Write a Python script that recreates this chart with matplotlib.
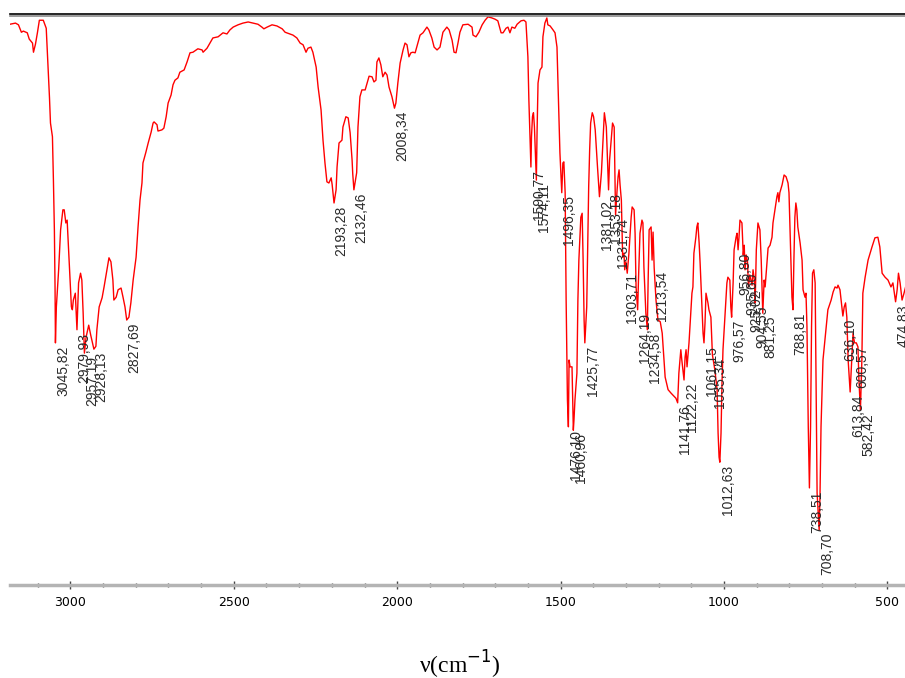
import numpy as np
import matplotlib
matplotlib.use('Agg')
import matplotlib.pyplot as plt
import matplotlib.transforms as mtransforms
from matplotlib.ticker import MultipleLocator

# IR spectrum: wavenumber (cm-1) and transmittance (%)
wavenumber = [
    3185, 3168, 3159, 3150, 3144, 3132, 3126, 3116, 3113, 3107, 3101, 3095, 3083, 3074,
    3067, 3064, 3061, 3055, 3052, 3049, 3047, 3045.82, 3043, 3036, 3030, 3023, 3019,
    3014, 3010, 3006, 3001, 2997, 2994, 2991, 2985, 2979.93, 2975, 2969, 2965, 2961,
    2957.19, 2952, 2944, 2938, 2928.13, 2922, 2919, 2912, 2903, 2897, 2888, 2882, 2876,
    2870, 2867, 2860, 2854, 2845, 2839, 2833, 2827.69, 2821, 2815, 2808, 2799, 2793,
    2787, 2781, 2778, 2769, 2762, 2753, 2747, 2744, 2735, 2732, 2720, 2714, 2707, 2701,
    2692, 2686, 2680, 2671, 2665, 2652, 2643, 2634, 2625, 2610, 2597, 2594, 2582, 2573,
    2564, 2548, 2533, 2521, 2512, 2502, 2487, 2472, 2456, 2441, 2426, 2414, 2408, 2398,
    2383, 2368, 2352, 2343, 2328, 2319, 2307, 2297, 2288, 2279, 2273, 2264, 2258, 2248,
    2242, 2233, 2227, 2221, 2215, 2209, 2202, 2199, 2193.28, 2187, 2184, 2178, 2169,
    2166, 2157, 2150, 2144, 2138, 2136, 2132.46, 2124, 2120, 2114, 2108, 2098, 2092,
    2086, 2077, 2071, 2065, 2062, 2056, 2050, 2044, 2037, 2031, 2025, 2016, 2008.34,
    2004, 1998, 1991, 1982, 1976, 1970, 1964, 1958, 1952, 1945, 1936, 1930, 1921, 1909,
    1903, 1894, 1887, 1878, 1869, 1860, 1848, 1841, 1832, 1826, 1820, 1814, 1808, 1799,
    1783, 1771, 1768, 1759, 1750, 1740, 1731, 1722, 1710, 1701, 1692, 1682, 1676, 1667,
    1661, 1655, 1649, 1640, 1633, 1621, 1612, 1606, 1603, 1600, 1597, 1590.77, 1589,
    1586, 1583, 1580, 1574.11, 1572, 1569, 1563, 1557, 1554, 1548, 1542, 1539, 1532,
    1523, 1517, 1511, 1508, 1502, 1496.35, 1493, 1490, 1486, 1483, 1479, 1476.10, 1474,
    1471, 1465, 1460.96, 1459, 1456, 1450, 1447, 1444, 1438, 1434, 1431, 1428, 1425.77,
    1420, 1417, 1414, 1411, 1408, 1403, 1399, 1394, 1387, 1381.02, 1375, 1369, 1366,
    1360, 1353.18, 1350, 1345, 1341, 1336, 1331.74, 1327, 1324, 1321, 1318, 1314, 1310,
    1306, 1303.71, 1300, 1296, 1291, 1284, 1281, 1275, 1272, 1269, 1264.19, 1261, 1257,
    1251, 1248, 1245, 1239, 1234.58, 1232, 1229, 1223, 1220, 1217, 1213.54, 1208, 1202,
    1195, 1189, 1180, 1171, 1162, 1147, 1141.76, 1138, 1132, 1129, 1122.22, 1119, 1116,
    1113, 1107, 1101, 1098, 1095, 1092, 1086, 1083, 1080, 1076, 1073, 1067, 1064,
    1061.15, 1058, 1055, 1049, 1046, 1040, 1037, 1035.34, 1028, 1021, 1018, 1015,
    1012.63, 1009, 1006, 1003, 997, 991, 988, 982, 979, 976.57, 972, 969, 963, 960,
    956.80, 954, 951, 945, 941, 938, 935.60, 932, 928, 925.02, 921, 914, 911, 907,
    904.55, 901, 896, 890, 886, 881.25, 877, 874, 868, 865, 859, 853, 850, 844, 838,
    835, 832, 829, 822, 816, 810, 804, 801, 798, 795, 792, 788.81, 786, 783, 780, 777,
    774, 767, 761, 758, 752, 749, 746, 742, 738.51, 735, 732, 729, 725, 721, 718, 715,
    708.70, 706, 703, 697, 685, 682, 672, 666, 660, 654, 651, 645, 639, 636.10, 632,
    628, 624, 620, 613.84, 608, 605, 600.57, 595, 590, 587, 582.42, 578, 575, 568, 559,
    547, 538, 529, 523, 516, 507, 498, 489, 483, 478, 474.83, 470, 466, 461, 455, 449,
    441,
]
transmittance = [
    98.2, 98.4, 98.1, 96.8, 97.0, 96.7, 95.6, 94.9, 93.3, 94.7, 96.7, 98.9, 98.9, 97.5,
    89.0, 85.3, 80.9, 78.5, 70.9, 62.0, 52.0, 42.4, 48.7, 55.2, 62.2, 65.7, 65.7,
    63.4, 63.9, 59.2, 53.4, 48.7, 48.2, 49.9, 51.1, 44.7, 52.9, 54.6, 53.4, 47.6,
    40.6, 43.4, 45.5, 43.8, 41.3, 41.8, 44.7, 48.7, 50.3, 52.2, 55.2, 57.3, 56.6,
    53.4, 49.9, 50.4, 51.7, 52.0, 50.4, 48.7, 46.4, 46.9, 49.4, 53.4, 57.4, 62.7,
    67.4, 70.4, 73.9, 75.8, 77.4, 79.3, 80.9, 81.1, 80.6, 79.5, 79.7, 80.0, 82.0, 84.4,
    85.8, 87.6, 88.4, 88.8, 89.8, 90.2, 91.6, 93.2, 93.3, 93.9, 93.7, 93.3, 94.0, 94.9,
    95.8, 96.0, 96.7, 96.5, 97.2, 97.7, 98.1, 98.4, 98.6, 98.4, 98.2, 97.7, 97.4, 97.7,
    98.1, 97.9, 97.4, 96.8, 96.5, 96.3, 95.8, 94.9, 94.6, 93.3, 94.0, 94.2, 93.3, 90.7,
    87.2, 83.2, 77.9, 73.9, 70.6, 70.4, 71.3, 70.1, 66.9, 69.2, 73.2, 77.4, 77.9,
    80.2, 82.0, 81.8, 79.2, 74.4, 72.0, 69.2, 72.2, 80.2, 85.5, 86.7, 86.7, 87.9,
    89.1, 89.0, 88.1, 88.4, 91.6, 92.3, 91.1, 89.0, 89.8, 89.3, 87.2, 85.5, 83.5,
    84.4, 87.9, 91.4, 93.7, 94.9, 94.6, 92.5, 93.2, 93.3, 93.2, 95.1, 96.3, 96.7, 97.7,
    97.2, 95.8, 94.2, 93.7, 94.2, 96.8, 97.7, 97.2, 95.4, 93.3, 93.2, 94.9, 96.8, 98.1,
    98.2, 97.7, 96.3, 96.0, 96.8, 98.1, 98.9, 99.5, 99.3, 99.1, 98.8, 96.7, 96.7, 97.5,
    97.7, 96.7, 97.7, 97.5, 98.2, 98.8, 98.9, 98.6, 95.4, 92.5, 84.9, 73.2, 78.5,
    82.0, 82.7, 80.2, 70.9, 79.2, 87.9, 90.2, 90.7, 96.0, 98.4, 99.3, 98.1, 97.9,
    97.2, 96.7, 94.2, 87.9, 75.7, 68.7, 73.9, 74.1, 68.7, 49.9, 32.4, 27.7, 39.4,
    38.2, 38.2, 27.1, 28.9, 32.4, 37.1, 49.9, 56.9, 64.4, 65.1, 56.9, 46.4, 42.4,
    48.7, 58.7, 69.7, 76.2, 80.9, 82.7, 82.0, 79.7, 73.2, 68.0, 72.2, 79.2, 82.7,
    80.2, 69.2, 74.4, 77.9, 80.9, 80.2, 64.8, 69.2, 71.5, 72.7, 70.1, 67.4, 57.4,
    58.1, 55.2, 56.6, 54.6, 58.0, 64.4, 66.2, 65.7, 61.6, 52.2, 48.2, 54.6, 61.6,
    63.9, 63.4, 55.7, 47.6, 44.7, 53.4, 62.2, 62.7, 56.9, 61.8, 55.5, 49.9, 46.4,
    46.1, 44.1, 36.4, 34.2, 33.6, 32.7, 31.9, 37.1, 41.2, 39.4, 35.9, 39.9, 41.2,
    38.2, 42.4, 48.2, 51.1, 52.2, 58.1, 60.9, 62.7, 63.4, 59.9, 56.4, 48.2, 44.1,
    42.4, 45.9, 51.1, 49.4, 48.2, 46.9, 42.4, 40.3, 37.7, 34.2, 26.6, 22.4,
    21.5, 26.6, 35.4, 41.2, 46.9, 52.9, 53.9, 53.4, 48.7, 46.9, 52.9, 58.7, 60.9, 61.6,
    58.7, 60.9, 63.9, 63.4, 57.8, 59.5, 55.2, 57.8, 56.6, 52.2, 54.3, 52.5, 55.2, 53.4,
    49.4, 58.7, 63.4, 62.2, 56.9, 47.6, 53.4, 52.2, 56.9, 59.0, 59.5, 60.9, 63.4, 65.7, 68.0,
    68.7, 67.1, 68.7, 70.1, 71.8, 71.5, 70.4, 68.7, 62.7, 56.9, 50.4, 48.2, 56.9, 64.4, 66.9, 65.7,
    62.7, 59.9, 56.9, 51.7, 50.4, 51.1, 45.2, 27.7, 17.0, 27.7, 45.2, 54.6, 55.2, 52.9, 33.6, 16.1,
    9.6, 16.1, 27.7, 39.4, 46.4, 48.2, 49.9, 51.3, 52.2, 52.0, 52.5, 51.7, 48.7, 47.1, 48.7,
    49.4, 46.9, 39.4, 33.8, 40.6, 44.1, 42.4, 42.4, 41.7, 35.9, 30.6, 39.4, 51.1, 53.9, 56.9,
    59.2, 60.8, 60.9, 59.2, 54.6, 53.9, 53.4, 52.2, 52.9, 50.8, 49.6, 51.7, 54.6, 52.9, 49.9, 51.1,
    52.9,
]

# labelled peaks
peaks = [3045.82, 2979.93, 2957.19, 2928.13, 2827.69, 2193.28, 2132.46, 2008.34,
         1590.77, 1574.11, 1496.35, 1476.10, 1460.96, 1425.77, 1381.02, 1353.18,
         1331.74, 1303.71, 1264.19, 1234.58, 1213.54, 1141.76, 1122.22, 1061.15,
         1035.34, 1012.63, 976.57, 956.80, 935.60, 925.02, 904.55, 881.25, 788.81,
         738.51, 708.70, 636.10, 613.84, 600.57, 582.42, 474.83]

wn = np.array(wavenumber)
tr = np.array(transmittance)

fig = plt.figure(figsize=(9.05, 6.78), dpi=100)
ax = fig.add_axes([0.011, 0.1372, 0.989, 0.8422])

ax.plot(wn, tr, color='#ff0000', lw=1.0)
ax.set_xlim(3185, 446)
ax.set_ylim(0, 100)

# peak labels hanging just under each minimum
for p in peaks:
    y = np.interp(p, wn[::-1], tr[::-1])
    ax.annotate(f"{p:.2f}".replace('.', ','), xy=(p, y), xytext=(0.5, -2),
                textcoords='offset points', rotation=90, ha='left', va='top',
                fontsize=10, color='#2a2a2a', family=['Liberation Sans', 'DejaVu Sans'],
                annotation_clip=False)

# frame: black top line with a grey shadow, grey bottom axis
for side in ['left', 'right']:
    ax.spines[side].set_visible(False)
ax.spines['top'].set_color('black')
ax.spines['top'].set_linewidth(1.2)
ax.spines['bottom'].set_color('#b4b4b4')
ax.spines['bottom'].set_linewidth(2.5)
shadow = mtransforms.offset_copy(ax.transAxes, fig=fig, y=-1.3, units='points')
ax.plot([0, 1], [1, 1], transform=shadow, color='#8a8a8a', lw=1.2, clip_on=False)

ax.xaxis.set_major_locator(MultipleLocator(500))
ax.xaxis.set_minor_locator(MultipleLocator(100))
ax.tick_params(axis='y', left=False, labelleft=False)
ax.tick_params(axis='x', which='major', direction='inout', length=6, width=1,
               color='#444444', labelsize=9, pad=5)
ax.tick_params(axis='x', which='minor', direction='inout', length=3, width=1,
               color='#444444')
for lbl in ax.get_xticklabels():
    lbl.set_family(['Liberation Sans Narrow', 'DejaVu Sans Condensed', 'DejaVu Sans'])

plt.rcParams['mathtext.fontset'] = 'stix'
ax.set_xlabel('ν(cm$^{-1}$)', fontsize=17, family='Liberation Serif')
ax.xaxis.set_label_coords(0.503, -0.14)
ax.xaxis.label.set_va('center')

fig.savefig('out.png', dpi=100)
